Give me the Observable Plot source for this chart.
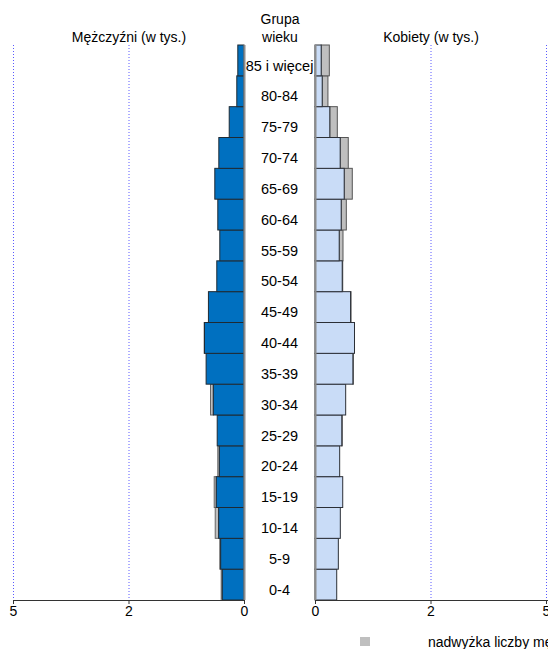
<!DOCTYPE html>
<html><head><meta charset="utf-8">
<script src="https://cdn.jsdelivr.net/npm/d3@7"></script>
<script src="https://cdn.jsdelivr.net/npm/@observablehq/plot@0.6"></script>
<style>
html,body{margin:0;padding:0;background:#fff;overflow:hidden}
#wrap{position:relative;width:548px;height:649px;font-family:"Liberation Sans",Arial,sans-serif;color:#000;background:#fff;overflow:hidden}
.lbl{position:absolute;font-size:14px;white-space:nowrap;transform:translate(-50%,-50%)}
#left{position:absolute;left:0;top:0}
#right{position:absolute;left:305px;top:0}
#legsq{position:absolute;left:360px;top:637px;width:10px;height:9px;background:#bfbfbf}
#legtx{position:absolute;left:428px;top:634px;font-size:14px;white-space:nowrap}
</style></head><body><div id="wrap">
<div class="lbl" style="left:280px;top:19px">Grupa</div>
<div class="lbl" style="left:280px;top:37px">wieku</div>
<div class="lbl" style="left:129px;top:37px">Mężczyźni (w tys.)</div>
<div class="lbl" style="left:431px;top:37px">Kobiety (w tys.)</div>
<div id="left"></div><div id="right"></div>
<div id="legsq"></div><div id="legtx">nadwyżka liczby mężczyzn/kobiet</div>
</div>
<script>
const ages = ["0-4","5-9","10-14","15-19","20-24","25-29","30-34","35-39","40-44","45-49","50-54","55-59","60-64","65-69","70-74","75-79","80-84","85 i więcej"];
const men   = [0.494,0.524,0.623,0.645,0.567,0.580,0.725,0.820,0.862,0.770,0.589,0.524,0.567,0.632,0.545,0.320,0.156,0.134];
const women = [0.470,0.505,0.548,0.600,0.534,0.590,0.664,0.830,0.855,0.780,0.600,0.606,0.678,0.807,0.720,0.483,0.280,0.310];
const xTicks = [0, 2.5, 5];
const xTickLabels = ["0","2","5"];
const gridTicks = [2.5, 5];

const rows = ages.map((a,i)=>({age:a, m:men[i], w:women[i], base:Math.min(men[i],women[i])}));
const H = 630, MT = 45, MB = 30;
const bw = (H - MT - MB) / ages.length;
const yDom = ages.slice().reverse();
const style = {fontFamily:"'Liberation Sans', Arial, sans-serif", fontSize:"14px", background:"transparent", overflow:"visible", color:"#000"};
const fmt = d => xTickLabels[xTicks.indexOf(d)];

const left = Plot.plot({
  width:315, height:H, marginLeft:13, marginRight:71, marginTop:MT, marginBottom:MB, style,
  x:{domain:[5,0], axis:null},
  y:{domain:yDom, padding:0, round:false, axis:null},
  marks:[
    Plot.ruleX(gridTicks, {stroke:"#5a5aff", strokeDasharray:"1,2", strokeWidth:1}),
    Plot.barX(rows.filter(d=>d.m>d.w), {x1:"base", x2:"m", y:"age", fill:"#bfbfbf", stroke:"#666", strokeWidth:1}),
    Plot.barX(rows, {x1:0, x2:"base", y:"age", fill:"#0070c0", stroke:"#1f2a33", strokeWidth:1}),
    Plot.ruleX([0], {stroke:"#8c8c8c", strokeWidth:2}),
    Plot.ruleY([ages[0]], {x1:5, x2:0, dy:bw/2, stroke:"#333", strokeWidth:1}),
    Plot.axisX({ticks:xTicks, tickFormat:fmt, tickSize:4, tickPadding:2, fontSize:14, stroke:"#333"}),
    Plot.text(rows, {y:"age", text:"age", frameAnchor:"right", textAnchor:"middle", dx:35, dy:5, fontSize:14.5, fill:"#000"})
  ]
});
document.getElementById("left").appendChild(left);

const right = Plot.plot({
  width:243, height:H, marginLeft:10, marginRight:2, marginTop:MT, marginBottom:MB, style,
  x:{domain:[0,5], axis:null},
  y:{domain:yDom, padding:0, round:false, axis:null},
  marks:[
    Plot.ruleX(gridTicks, {stroke:"#5a5aff", strokeDasharray:"1,2", strokeWidth:1}),
    Plot.barX(rows.filter(d=>d.w>d.m), {x1:"base", x2:"w", y:"age", fill:"#bfbfbf", stroke:"#555", strokeWidth:1}),
    Plot.barX(rows, {x1:0, x2:"base", y:"age", fill:"#c9dcf7", stroke:"#2b2f36", strokeWidth:1}),
    Plot.ruleX([0], {stroke:"#8c8c8c", strokeWidth:2}),
    Plot.ruleY([ages[0]], {x1:0, x2:5.1, dy:bw/2, stroke:"#333", strokeWidth:1}),
    Plot.axisX({ticks:xTicks, tickFormat:fmt, tickSize:4, tickPadding:2, fontSize:14, stroke:"#333"})
  ]
});
document.getElementById("right").appendChild(right);
</script>
</body></html>
